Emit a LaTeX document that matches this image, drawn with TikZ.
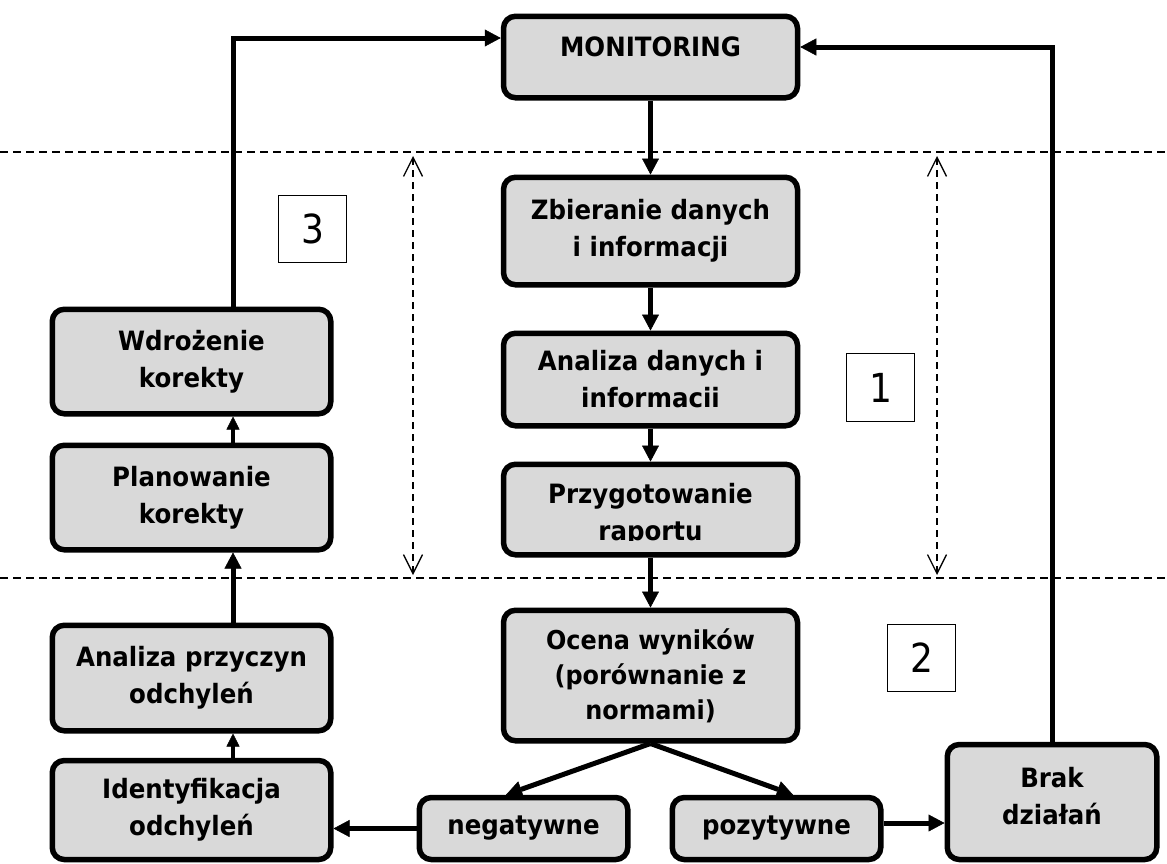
\documentclass[tikz,border=0pt]{standalone}
\usepackage{fontspec}
\setmainfont{DejaVu Sans}[FakeStretch=0.92]
\newfontfamily\numfont{DejaVu Sans}[FakeStretch=0.9]
\usetikzlibrary{arrows.meta,calc}
\definecolor{boxgray}{RGB}{217,217,217}
\begin{document}
\begin{tikzpicture}[x=1pt,y=-1pt,
  box/.style={draw, line width=5.5pt, rounded corners=12pt, fill=boxgray, inner sep=0pt, align=center, font=\bfseries\fontsize{26.6}{37}\selectfont},
  txt/.style={inner sep=0pt, align=center, font=\bfseries\fontsize{26.6}{37}\selectfont},
  num/.style={draw, line width=1.3pt, fill=white, inner sep=0pt, font=\numfont\fontsize{40}{44}\selectfont},
  arr/.style={line width=5pt, -{Triangle[length=16pt,width=17pt,line width=0.5pt]}},
  sarr/.style={line width=3.2pt, -{Triangle[length=13pt,width=13pt,line width=0.5pt]}},
  sep/.style={line width=1.4pt, dash pattern=on 8pt off 5pt},
  dimarr/.style={line width=1.3pt, dash pattern=on 7pt off 5pt, {Straight Barb[length=19pt,width=19pt]}-{Straight Barb[length=19pt,width=19pt]}}]
\useasboundingbox (0,0) rectangle (1167,863);

% separators
\coordinate (s1a) at (0,152);
\coordinate (s1b) at (1167,152);
\coordinate (s2a) at (0,578);
\coordinate (s2b) at (1167,578);
\draw[sep] (s1a) -- (s1b);
\draw[sep] (s2a) -- (s2b);

% dimension arrows
\coordinate (d1t) at (413,156);
\coordinate (d1b) at (413,575);
\coordinate (d2t) at (937,156);
\coordinate (d2b) at (937,575);
\draw[dimarr] (d1b) -- (d1t);
\draw[dimarr] (d2b) -- (d2t);

% central column
\node[box, minimum width=294pt, minimum height=81.5pt] (mon) at (650.5,57) {};
\node[txt] (montxt) at (650.5,47) {MONITORING};
\node[box, minimum width=294pt, minimum height=107.5pt] (zb) at (650.5,231) {Zbieranie danych\\i informacji};
\node[box, minimum width=294pt, minimum height=92.5pt] (an) at (650.5,379.5) {Analiza danych i\\informacii};
\node[box, minimum width=294pt, minimum height=90.5pt] (prz) at (650.5,509.5) {};
\coordinate (przcut) at (800,540);
\begin{scope}
\clip (prz.north west) rectangle (przcut);
\node[txt] (prztxt) at (650.5,515) {Przygotowanie\\raportu};
\end{scope}
\node[box, minimum width=294pt, minimum height=130.5pt, font=\bfseries\fontsize{26}{35}\selectfont] (oc) at (650.5,675.5) {Ocena wyników\\(porównanie z\\normami)};

% bottom row
\node[box, minimum width=208.5pt, minimum height=62pt] (neg) at (523.5,828.5) {negatywne};
\node[box, minimum width=208.5pt, minimum height=62pt] (poz) at (776.5,828.5) {pozytywne};
\node[box, minimum width=209.5pt, minimum height=115pt] (brak) at (1052,802) {};
\node[txt] (braktxt) at (1052,796) {Brak\\działań};

% left column
\node[box, minimum width=278.5pt, minimum height=104.5pt] (wdr) at (191.5,361.5) {Wdrożenie\\korekty};
\node[box, minimum width=278.5pt, minimum height=104.5pt] (plan) at (191.5,497.5) {Planowanie\\korekty};
\node[box, minimum width=278.5pt, minimum height=105.5pt] (anprz) at (191.5,678) {Analiza przyczyn\\odchyleń};
\node[box, minimum width=278.5pt, minimum height=99pt] (ident) at (191.5,810) {Identyfikacja\\odchyleń};

% number boxes
\node[num, minimum width=67.7pt, minimum height=66.7pt] (n3) at (312.5,229) {3};
\node[num, minimum width=67.7pt, minimum height=67.7pt] (n1) at (880.5,387.5) {1};
\node[num, minimum width=67.7pt, minimum height=66.7pt] (n2) at (921.5,658) {2};

% connectors
\draw[arr] (mon.south) -- (zb.north);
\draw[arr] (zb.south) -- (an.north);
\draw[arr] (an.south) -- (prz.north);
\draw[arr] (prz.south) -- (oc.north);
\draw[arr] (oc.south) -- ([xshift=-17.5pt]neg.north);
\draw[arr] (oc.south) -- ([xshift=16.5pt]poz.north);
\draw[arr] (neg.west) -- (ident.east |- neg.west);
\coordinate (pzy) at (0,823);
\draw[arr] (poz.east |- pzy) -- (brak.west |- pzy);
\draw[sarr] ([xshift=41.5pt]ident.north) -- ([xshift=41.5pt]anprz.south);
\draw[arr] ([xshift=41.5pt]anprz.north) -- ([xshift=41.5pt]plan.south);
\draw[sarr] ([xshift=41.5pt]plan.north) -- ([xshift=41.5pt]wdr.south);
\coordinate (lt) at (233,38);
\draw[arr] ([xshift=41.5pt]wdr.north) |- (mon.west |- lt);
\coordinate (rt) at (1052,47);
\draw[arr] (brak.north) |- (mon.east |- rt);
\end{tikzpicture}
\end{document}
